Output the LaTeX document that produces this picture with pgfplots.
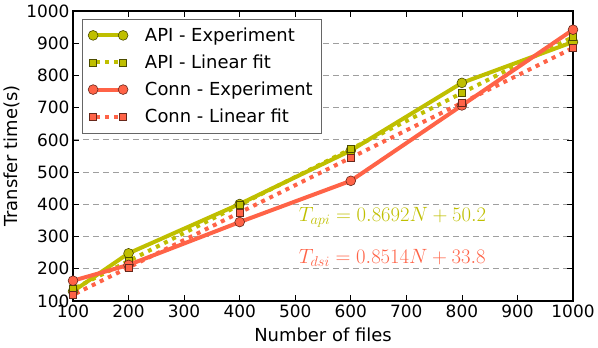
\documentclass[border=0pt]{standalone}
\usepackage{fontspec}
\setmainfont{DejaVu Sans}
\usepackage{pgfplots}
\pgfplotsset{compat=1.18}
\definecolor{apiy}{RGB}{191,191,0}
\definecolor{connr}{RGB}{255,99,71}
\begin{document}
\begin{tikzpicture}
\begin{axis}[
    width=500bp, height=290bp, scale only axis,
    xmin=100, xmax=1000, ymin=100, ymax=1000,
    xtick={100,200,...,1000}, ytick={100,200,...,1000},
    tick align=inside,
    major tick length=6bp,
    /pgf/number format/1000 sep={},
    /pgf/number format/assume math mode=true,
    tick label style={font=\fontsize{17}{20}\selectfont},
    label style={font=\fontsize{18}{21}\selectfont},
    xlabel={Number of files},
    xlabel style={yshift=-4bp},
    ylabel={Transfer time(s)},
    ymajorgrids,
    grid style={gray!75, line width=0.9bp, dash pattern=on 6bp off 4bp},
    axis line style={line width=1.8bp},
    every tick/.style={black, line width=0.6bp},
    legend style={at={(0.018,0.972)}, anchor=north west, draw=black!60,
        font=\fontsize{18}{21}\selectfont, cells={anchor=west},
        row sep=8bp, inner xsep=6bp, inner ysep=6.5bp,
        /tikz/every odd column/.append style={column sep=15bp}},
    legend image code/.code={\draw[mark repeat=2, mark phase=1, #1]
        plot coordinates {(0bp,0bp) (15bp,0bp) (30bp,0bp)};},
]
\addplot[apiy, line width=4bp, mark=*, mark size=4.9bp,
    mark options={solid, fill=apiy, draw=black!60!apiy, line width=0.6bp}]
    coordinates {(100,130) (200,248) (400,401) (600,567) (800,777) (1000,904)};
\addlegendentry{API - Experiment}
\addplot[apiy, line width=4bp, dash pattern=on 4bp off 5bp, dash phase=6bp, mark=square*, mark size=3.5bp,
    mark options={solid, fill=apiy, draw=black!60!apiy, line width=0.6bp}]
    coordinates {(100,137.1) (200,224.0) (400,397.9) (600,571.7) (800,745.6) (1000,919.4)};
\addlegendentry{API - Linear fit}
\addplot[connr, line width=4bp, mark=*, mark size=4.9bp,
    mark options={solid, fill=connr, draw=black!60!connr, line width=0.6bp}]
    coordinates {(100,163) (200,212) (400,345) (600,473) (800,707) (1000,942)};
\addlegendentry{Conn - Experiment}
\addplot[connr, line width=4bp, dash pattern=on 4bp off 5bp, dash phase=6bp, mark=square*, mark size=3.5bp,
    mark options={solid, fill=connr, draw=black!60!connr, line width=0.6bp}]
    coordinates {(100,119.0) (200,204.1) (400,374.4) (600,544.6) (800,714.9) (1000,885.2)};
\addlegendentry{Conn - Linear fit}
\node[anchor=west, inner sep=0pt, text=apiy, font=\fontsize{19.5}{22}\selectfont] at (axis cs:506,360)
    {$T_{api} = 0.8692N + 50.2$};
\node[anchor=west, inner sep=0pt, text=connr, font=\fontsize{19.5}{22}\selectfont] at (axis cs:506,233)
    {$T_{dsi} = 0.8514N + 33.8$};
\coordinate (sw) at (rel axis cs:0,0);
\coordinate (ne) at (rel axis cs:1,1);
\end{axis}
\pgfresetboundingbox
\path[use as bounding box] ([shift={(-73bp,-46bp)}]sw) rectangle ([shift={(25bp,11bp)}]ne);
\end{tikzpicture}
\end{document}
